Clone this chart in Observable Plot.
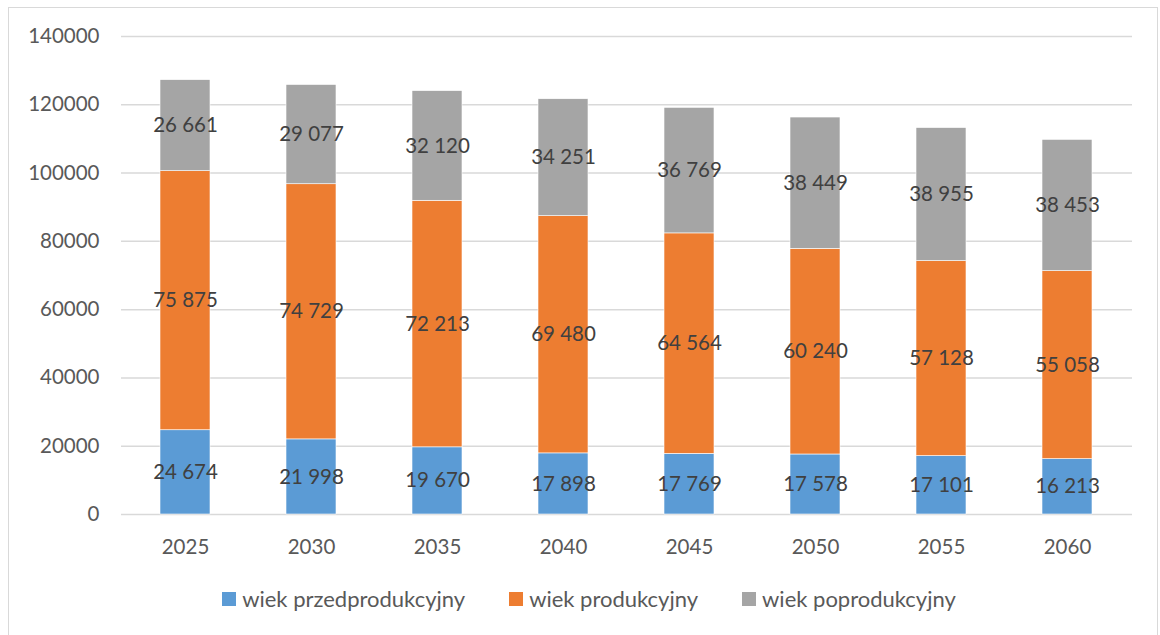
<!DOCTYPE html>
<html>
<head>
<meta charset="utf-8">
<script src="https://cdn.jsdelivr.net/npm/d3@7"></script>
<script src="https://cdn.jsdelivr.net/npm/@observablehq/plot@0.6"></script>
<style>
  html, body { margin: 0; padding: 0; background: #fff; }
  body { width: 1160px; height: 635px; position: relative; overflow: hidden; font-family: Lato, "Open Sans", sans-serif; }
  #frame { position: absolute; left: 8px; top: 7px; width: 1150px; height: 640px; border: 1.5px solid #d9d9d9; box-sizing: border-box; }
  #chart { position: absolute; left: 0; top: 0; }
  #legend { position: absolute; left: 9px; top: 585px; width: 1160px; display: flex; justify-content: center; font-size: 22px; color: #595959; }
  .item { display: flex; align-items: center; }
  .sw { width: 14px; height: 14px; margin-right: 6px; }
</style>
</head>
<body>
<div id="frame"></div>
<div id="chart"></div>
<div id="legend"></div>
<script>
const years = ["2025","2030","2035","2040","2045","2050","2055","2060"];
const seriesNames = ["wiek przedprodukcyjny","wiek produkcyjny","wiek poprodukcyjny"];
const przed = [24674,21998,19670,17898,17769,17578,17101,16213];
const prod = [75875,74729,72213,69480,64564,60240,57128,55058];
const popr = [26661,29077,32120,34251,36769,38449,38955,38453];
const colors = ["#5B9BD5","#ED7D31","#A5A5A5"];
const yTicks = [0,20000,40000,60000,80000,100000,120000,140000];

const seriesValues = [przed, prod, popr];
const data = [];
years.forEach((yr, i) => {
  let base = 0;
  seriesValues.forEach((vals, s) => {
    const v = vals[i];
    data.push({year: yr, series: seriesNames[s], value: v, y1: base, y2: base + v, mid: base + v / 2});
    base += v;
  });
});

const fmt = v => d3.format(",")(v).replace(/,/g, "\u00a0");

const plot = Plot.plot({
  width: 1160,
  height: 560,
  marginLeft: 121,
  marginRight: 28,
  marginTop: 36,
  marginBottom: 46,
  style: {fontFamily: "Lato, 'Open Sans', sans-serif", fontSize: "20px", background: "transparent"},
  x: {domain: years, paddingInner: 0.6, paddingOuter: 0.3, label: null},
  y: {domain: [0, 140000], label: null},
  color: {domain: seriesNames, range: colors},
  marks: [
    Plot.ruleY(yTicks, {stroke: "#d9d9d9", strokeWidth: 1.5}),
    Plot.rectY(data, {x: "year", y1: "y1", y2: "y2", fill: "series", stroke: "#fff", strokeWidth: 0.6}),
    Plot.text(data, {x: "year", y: "mid", text: d => fmt(d.value), fill: "#404040", fontSize: 20.5}),
    Plot.axisX({tickSize: 0, tickPadding: 25, fill: "#595959", fontSize: 20.5}),
    Plot.axisY({ticks: yTicks, tickSize: 0, tickPadding: 22, fill: "#595959", fontSize: 20.5, tickFormat: d => String(d)})
  ]
});
document.getElementById("chart").appendChild(plot);

const legend = document.getElementById("legend");
seriesNames.forEach((name, i) => {
  const item = document.createElement("div");
  item.className = "item";
  item.style.marginRight = i < seriesNames.length - 1 ? "44px" : "0";
  const sw = document.createElement("div");
  sw.className = "sw";
  sw.style.background = colors[i];
  const t = document.createElement("span");
  t.textContent = name;
  item.appendChild(sw);
  item.appendChild(t);
  legend.appendChild(item);
});
</script>
</body>
</html>
